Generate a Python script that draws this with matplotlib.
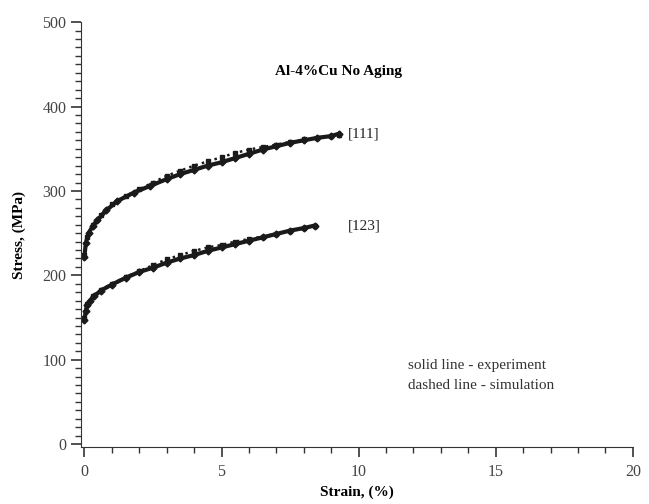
import numpy as np
import matplotlib
matplotlib.use("Agg")
import matplotlib.pyplot as plt
from matplotlib.ticker import MultipleLocator

plt.rcParams['font.family'] = ['Liberation Serif', 'DejaVu Serif']

# experiment, [111]
exp111_strain = [0.0, 0.05, 0.15, 0.3, 0.47, 0.8, 1.2, 1.8, 2.4, 3.0, 3.5, 4.0, 4.5, 5.0, 5.5, 6.0, 6.5, 7.0, 7.5, 8.0, 8.5, 9.0, 9.3]
exp111_stress = [222, 238, 250, 258, 265, 277, 288, 298, 306, 314, 320, 325, 330, 334, 339, 344, 349, 353, 357, 360, 363, 365, 368]
# simulation, [111]
sim111_strain = [0.0, 0.1, 0.3, 0.6, 1.0, 1.5, 2.0, 2.5, 3.0, 3.5, 4.0, 4.5, 5.0, 5.5, 6.0, 6.5, 7.0, 7.5, 8.0, 8.5, 9.0, 9.3]
sim111_stress = [224, 246, 260, 272, 284, 294, 302, 310, 318, 324, 330, 335, 340, 345, 349, 352, 355, 358, 361, 363, 365, 366]

# experiment, [123]
exp123_strain = [0.0, 0.05, 0.1, 0.2, 0.35, 0.6, 1.0, 1.5, 2.0, 2.5, 3.0, 3.5, 4.0, 4.5, 5.0, 5.5, 6.0, 6.5, 7.0, 7.5, 8.0, 8.4]
exp123_stress = [147, 158, 165, 170, 175, 182, 189, 197, 204, 209, 215, 220, 224, 229, 233, 237, 241, 245, 249, 253, 256, 259]
# simulation, [123]
sim123_strain = [0.0, 0.1, 0.3, 0.6, 1.0, 1.5, 2.0, 2.5, 3.0, 3.5, 4.0, 4.5, 5.0, 5.5, 6.0, 6.5, 7.0, 7.5, 8.0, 8.4]
sim123_stress = [150, 166, 175, 183, 190, 198, 205, 212, 219, 224, 229, 233, 236, 240, 243, 246, 249, 252, 256, 259]

fig = plt.figure(figsize=(6.49, 5.04), dpi=100)
ax = fig.add_axes([0.125, 0.113, 0.85, 0.843])

ax.plot(exp111_strain, exp111_stress, color='#1a1a1a', lw=3, marker='D', ms=3.5)
ax.plot(sim111_strain, sim111_stress, color='#1a1a1a', lw=1.8, ls=':', marker='s', ms=3)
ax.plot(exp123_strain, exp123_stress, color='#1a1a1a', lw=3, marker='D', ms=3.5)
ax.plot(sim123_strain, sim123_stress, color='#1a1a1a', lw=1.8, ls=':', marker='s', ms=3)

ax.set_xlim(-0.12, 20)
ax.set_ylim(-3.5, 500)
ax.spines['top'].set_visible(False)
ax.spines['right'].set_visible(False)
ax.spines['left'].set_color('#333333')
ax.spines['bottom'].set_color('#333333')

ax.xaxis.set_major_locator(MultipleLocator(5))
ax.xaxis.set_minor_locator(MultipleLocator(1))
ax.yaxis.set_major_locator(MultipleLocator(100))
ax.yaxis.set_minor_locator(MultipleLocator(10))
ax.tick_params(which='major', direction='out', length=7, width=1.2, color='#333333',
               labelsize=11.5, labelcolor='#444444')
ax.tick_params(which='minor', direction='out', length=4, width=1, color='#333333')
ax.tick_params(axis='x', pad=5)

ax.set_xlabel('Strain, (%)', fontweight='bold', fontsize=11, labelpad=4)
ax.set_ylabel('Stress, (MPa)', fontweight='bold', fontsize=11, labelpad=12)

ax.text(9.6, 368, '[111]', fontsize=11, va='center', color='#222222')
ax.text(9.6, 259, '[123]', fontsize=11, va='center', color='#222222')
ax.text(9.25, 442, 'Al-4%Cu No Aging', fontsize=11, fontweight='bold', ha='center', va='center')
ax.text(11.8, 93, 'solid line - experiment', fontsize=11, va='center', color='#333333')
ax.text(11.8, 70, 'dashed line - simulation', fontsize=11, va='center', color='#333333')

plt.savefig('out.png', dpi=100)
